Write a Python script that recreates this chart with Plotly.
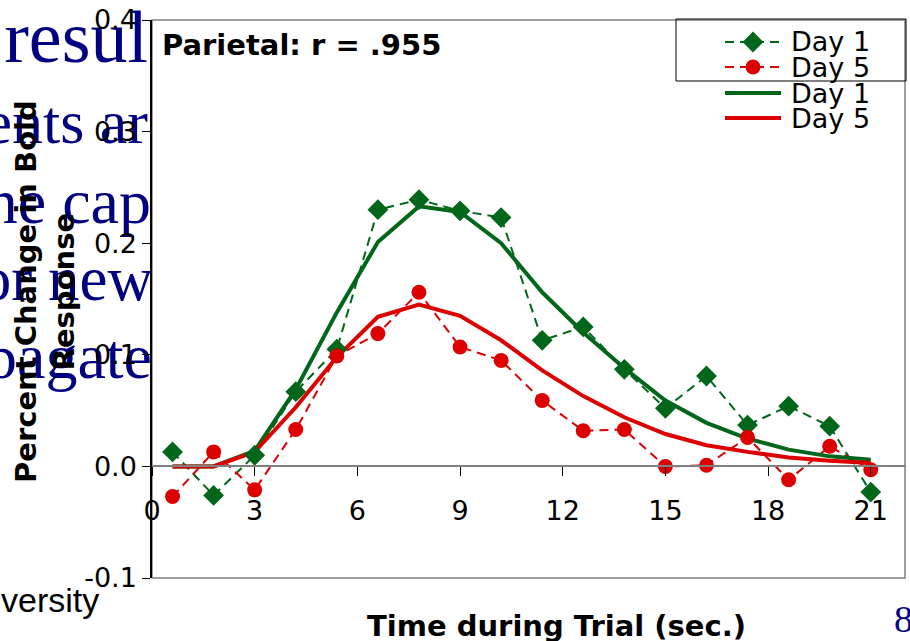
import plotly.graph_objects as go

W, H = 910, 641

# ---------------- data ----------------
time_s = [0.6, 1.8, 3.0, 4.2, 5.4, 6.6, 7.8, 9.0, 10.2, 11.4, 12.6, 13.8, 15.0, 16.2, 17.4, 18.6, 19.8, 21.0]
day1_obs = [0.013, -0.026, 0.010, 0.067, 0.105, 0.230, 0.239, 0.229, 0.223, 0.113, 0.125, 0.087, 0.052, 0.081, 0.037, 0.054, 0.036, -0.023]
day5_obs = [-0.027, 0.013, -0.021, 0.033, 0.099, 0.119, 0.156, 0.107, 0.095, 0.059, 0.032, 0.033, 0.000, 0.001, 0.026, -0.012, 0.018, -0.003]
day1_fit = [0.0, 0.0, 0.014, 0.069, 0.138, 0.201, 0.233, 0.228, 0.200, 0.156, 0.120, 0.088, 0.059, 0.039, 0.025, 0.015, 0.009, 0.006]
day5_fit = [0.0, 0.0, 0.013, 0.053, 0.098, 0.134, 0.145, 0.135, 0.113, 0.086, 0.063, 0.044, 0.029, 0.019, 0.013, 0.008, 0.005, 0.003]

x_ticks = [0, 3, 6, 9, 12, 15, 18, 21]
x_ticklabels = ["0", "3", "6", "9", "12", "15", "18", "21"]
y_ticks = [-0.1, 0.0, 0.1, 0.2, 0.3, 0.4]
y_ticklabels = ["-0.1", "0.0", "0.1", "0.2", "0.3", "0.4"]

legend_labels = ["Day 1", "Day 5", "Day 1", "Day 5"]
chart_title = "Parietal: r = .955"
x_title = "Time during Trial (sec.)"
y_title = "Percent Change in Bold<br>Response"
slide_lines = ["resul", "ents ar", "ne cap", "or new", "pagate"]
slide_footer = "versity"
slide_page = "8"

# ---------------- layout / style ----------------
GREEN = "#00661A"
RED = "#DD0000"
NAVY = "#000080"
GRAY = "#808080"
SANS = "DejaVu Sans"
SERIF = "Liberation Serif"

PLOT_L, PLOT_R, PLOT_T, PLOT_B = 152, 905, 20, 578
X_RANGE = [0, 22]
Y_RANGE = [-0.1, 0.4]

def fx(px):
    return px / W

def fy(py):
    return 1 - py / H

ydom = [fy(PLOT_B), fy(PLOT_T)]
zero_pos = ydom[0] + (0 - Y_RANGE[0]) / (Y_RANGE[1] - Y_RANGE[0]) * (ydom[1] - ydom[0])

# slide-background text (pixel positions in the left strip)
slide_right = [148, 148, 151, 153, 152]
slide_sizes = [74, 62, 64, 63, 64]
slide_baseline = [62, 143, 223, 300, 378]
slide_mid_y = [b - 0.25 * s for b, s in zip(slide_baseline, slide_sizes)]

fig = go.Figure()

# --- slide background text (bottom subplot, clipped to left strip) ---
fig.add_trace(go.Scatter(
    x=slide_right, y=slide_mid_y, text=slide_lines, mode="text",
    textposition="middle left",
    textfont=dict(family=SERIF, size=slide_sizes, color=NAVY),
    xaxis="x", yaxis="y", cliponaxis=True, hoverinfo="skip", showlegend=False))
fig.add_trace(go.Scatter(
    x=[1], y=[603], text=[slide_footer], mode="text",
    textposition="middle right",
    textfont=dict(family="Liberation Sans", size=34, color="black"),
    xaxis="x", yaxis="y", cliponaxis=True, hoverinfo="skip", showlegend=False))

# --- main chart ---
DASH = "9px,6px"
fig.add_trace(go.Scatter(x=time_s, y=day1_obs, mode="lines", name=legend_labels[0],
                         line=dict(color=GREEN, width=2, dash=DASH),
                         xaxis="x2", yaxis="y2", showlegend=False))
fig.add_trace(go.Scatter(x=time_s, y=day5_obs, mode="lines", name=legend_labels[1],
                         line=dict(color=RED, width=2, dash=DASH),
                         xaxis="x2", yaxis="y2", showlegend=False))
fig.add_trace(go.Scatter(x=time_s, y=day1_fit, mode="lines", name=legend_labels[2],
                         line=dict(color=GREEN, width=4),
                         xaxis="x2", yaxis="y2", showlegend=False))
fig.add_trace(go.Scatter(x=time_s, y=day5_fit, mode="lines", name=legend_labels[3],
                         line=dict(color=RED, width=4),
                         xaxis="x2", yaxis="y2", showlegend=False))
fig.add_trace(go.Scatter(x=time_s, y=day1_obs, mode="markers", name=legend_labels[0],
                         marker=dict(symbol="diamond", size=16, color=GREEN),
                         xaxis="x2", yaxis="y2", cliponaxis=False, showlegend=False))
fig.add_trace(go.Scatter(x=time_s, y=day5_obs, mode="markers", name=legend_labels[1],
                         marker=dict(symbol="circle", size=15, color=RED),
                         xaxis="x2", yaxis="y2", cliponaxis=False, showlegend=False))

# --- hand-drawn legend (pixel overlay axis) ---
LEG_ROWS = [42, 67, 93, 118]
LEG_X0, LEG_X1, LEG_TX = 725, 781, 789
leg_styles = [
    dict(color=GREEN, width=2, dash=DASH, symbol="diamond", msize=16),
    dict(color=RED, width=2, dash=DASH, symbol="circle", msize=15),
    dict(color=GREEN, width=4, dash="solid", symbol=None, msize=0),
    dict(color=RED, width=4, dash="solid", symbol=None, msize=0),
]
for row, st, lab in zip(LEG_ROWS, leg_styles, legend_labels):
    fig.add_trace(go.Scatter(x=[LEG_X0, LEG_X1], y=[row, row], mode="lines",
                             line=dict(color=st["color"], width=st["width"], dash=st["dash"]),
                             xaxis="x3", yaxis="y3", hoverinfo="skip", showlegend=False,
                             cliponaxis=False))
    if st["symbol"]:
        fig.add_trace(go.Scatter(x=[(LEG_X0 + LEG_X1) / 2], y=[row], mode="markers",
                                 marker=dict(symbol=st["symbol"], size=st["msize"], color=st["color"]),
                                 xaxis="x3", yaxis="y3", hoverinfo="skip", showlegend=False,
                                 cliponaxis=False))

annotations = []
for row, lab in zip(LEG_ROWS, legend_labels):
    annotations.append(dict(x=fx(LEG_TX), y=fy(row), xref="paper", yref="paper",
                            text=lab, showarrow=False, xanchor="left", yanchor="middle",
                            font=dict(family=SANS, size=27, color="black")))

annotations += [
    dict(x=fx(160), y=fy(45), xref="paper", yref="paper", text=chart_title,
         showarrow=False, xanchor="left", yanchor="middle",
         font=dict(family=SANS, size=29, color="black", weight="bold")),
    dict(x=fx(556), y=fy(626), xref="paper", yref="paper", text=x_title,
         showarrow=False, xanchor="center", yanchor="middle",
         font=dict(family=SANS, size=29, color="black", weight="bold")),
    dict(x=fx(45), y=fy(292), xref="paper", yref="paper", text=y_title,
         showarrow=False, xanchor="center", yanchor="middle", textangle=-90,
         font=dict(family=SANS, size=29, color="black", weight="bold")),
    dict(x=fx(892), y=fy(619), xref="paper", yref="paper", text=slide_page,
         showarrow=False, xanchor="left", yanchor="middle",
         font=dict(family=SERIF, size=38, color=NAVY)),
]

shapes = [
    # plot-area frame
    dict(type="rect", xref="x2 domain", yref="y2 domain", x0=0, x1=1, y0=0, y1=1,
         line=dict(color=GRAY, width=1.5), layer="below"),
    # legend box
    dict(type="rect", xref="x3", yref="y3", x0=676, x1=906, y0=19, y1=81,
         line=dict(color="black", width=1), layer="above"),
]

hidden = dict(visible=False, showgrid=False, zeroline=False, fixedrange=True, automargin=False)

fig.update_layout(
    width=W, height=H, autosize=False,
    margin=dict(l=0, r=0, t=0, b=0, pad=0, autoexpand=False),
    paper_bgcolor="white", plot_bgcolor="rgba(0,0,0,0)",
    showlegend=False,
    font=dict(family=SANS, color="black"),
    # slide strip
    xaxis=dict(domain=[0, fx(PLOT_L)], range=[0, PLOT_L], anchor="y", **hidden),
    yaxis=dict(domain=[0, 1], range=[H, 0], anchor="x", **hidden),
    # main chart
    xaxis2=dict(domain=[fx(PLOT_L), fx(PLOT_R)], range=X_RANGE, anchor="free", position=zero_pos,
                tickmode="array", tickvals=x_ticks, ticktext=x_ticklabels,
                ticks="outside", ticklen=9, tickwidth=1, tickcolor="black",
                showline=True, linecolor=GRAY, linewidth=1.5, automargin=False,
                showgrid=False, zeroline=False, ticklabelstandoff=11,
                tickfont=dict(family=SANS, size=27, color="black")),
    yaxis2=dict(domain=ydom, range=Y_RANGE, anchor="x2",
                tickmode="array", tickvals=y_ticks, ticktext=y_ticklabels,
                ticks="outside", ticklen=8, tickwidth=1, tickcolor="black",
                showline=True, linecolor="black", linewidth=1.5, automargin=False,
                showgrid=False, zeroline=False,
                tickfont=dict(family=SANS, size=27, color="black")),
    # pixel overlay for legend
    xaxis3=dict(domain=[0, 1], range=[0, W], anchor="y3", **hidden),
    yaxis3=dict(domain=[0, 1], range=[H, 0], anchor="x3", **hidden),
    annotations=annotations,
    shapes=shapes,
)

fig.write_html(
    "out.html",
    config={"displayModeBar": False},
    post_script="document.body.style.margin='0';document.body.style.overflow='hidden';",
)
